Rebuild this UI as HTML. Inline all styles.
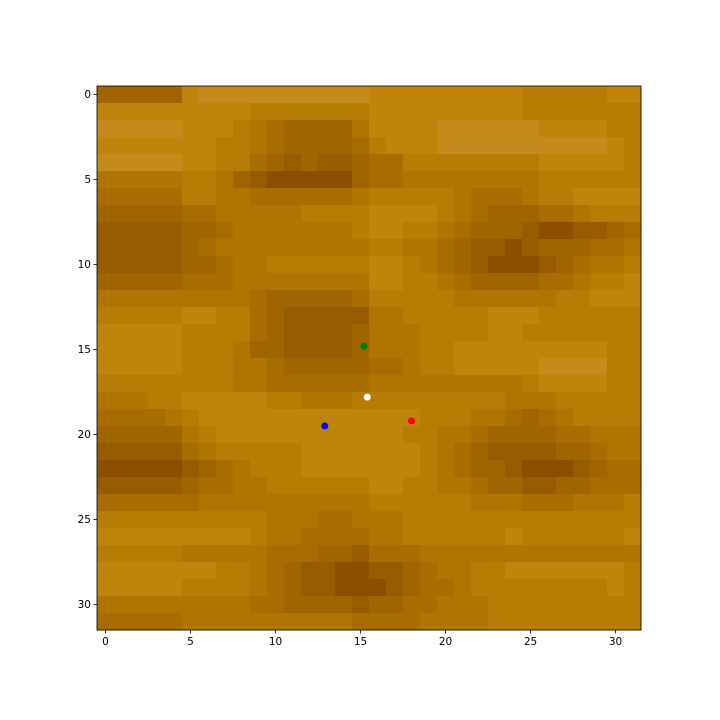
<!DOCTYPE html>
<html><head><meta charset="utf-8"><style>
body{margin:0;background:#fff;}
svg{display:block;font-family:"DejaVu Sans","Liberation Sans",sans-serif;}
</style></head><body>
<svg id="chart" width="720" height="720"></svg>
<script>
const rowLevels = [
"66666211111111112222222223333322",
"22222222233333332222222223333333",
"11111222345666642222111111222233",
"22222223345666653222111111111123",
"11111223356767765533333333222223",
"44444334678888865544444444333333",
"55555334455555543333345554332222",
"66666554444433332222345666554333",
"77777665444444432233456667887765",
"77777654444444443344567787666554",
"77777665443333332234567888765443",
"66666555444444442233456666554332",
"44444444456666653333344444433222",
"33333223356777774433333222333333",
"22222333356777764443333223333333",
"22222333466777764443322222222233",
"22222333445666665543322222111133",
"33333333445555554444444443222233",
"44433222223344433333333344433333",
"55554322222222222223334456543333",
"66666432222222222233445666655444",
"77777543333322222223456777766544",
"88888765433322222223456678887655",
"77777655443333332233445667766555",
"55555544444444443333334445554443",
"33333333334445544433333333333333",
"22222222234455554433333323333332",
"33333444445556675554444444444444",
"22222223345677887765443322222223",
"22222333345677888765543333333323",
"44444444455666676655444333333333",
"55555444444444455554444333333333"
];
const tickValues = [0,5,10,15,20,25,30];
const dotX = [15.2, 15.4, 12.9, 18.0];
const dotY = [14.8, 17.8, 19.5, 19.2];
const dotColors = ["#008000","#ffffff","#0000ff","#ff0000"];
const dotNames = ["green-point","white-point","blue-point","red-point"];

const palette=["#c88e24","#c48a1e","#c0840c","#b77c05","#b07400","#a86c00","#a06400","#985c00","#8e4e00","#874600"];
const svg=document.getElementById('chart');
const NS='http://www.w3.org/2000/svg';
const X0=97,Y0=86,S=544,N=32,C=S/N;
const xs=v=>X0+(v+0.5)*C, ys=v=>Y0+(v+0.5)*C;
function mk(t,a){const e=document.createElementNS(NS,t);for(const k in a)e.setAttribute(k,a[k]);svg.appendChild(e);return e;}
for(let r=0;r<N;r++)for(let c=0;c<N;c++){
  const e=mk('rect',{x:xs(c)-C/2,y:ys(r)-C/2,width:C+0.5,height:C+0.5,fill:palette[+rowLevels[r][c]]});
  
  
}
const fr=mk('rect',{x:X0,y:Y0,width:S,height:S,fill:'none',stroke:'#000','stroke-width':0.8});


tickValues.forEach(v=>{
  const x=xs(v),y=ys(v);
  let t=mk('line',{x1:x,x2:x,y1:Y0+S,y2:Y0+S+3.5,stroke:'#000','stroke-width':0.8});
  
  
  let l=mk('text',{x:x,y:Y0+S+15,'font-size':10.5,'text-anchor':'middle',fill:'#000'});l.textContent=v;
  
  
  t=mk('line',{x1:X0-3.5,x2:X0,y1:y,y2:y,stroke:'#000','stroke-width':0.8});
  
  
  l=mk('text',{x:X0-6,y:y+3.5,'font-size':10.5,'text-anchor':'end',fill:'#000'});l.textContent=v;
  
  
});
dotX.forEach((v,i)=>{
  const d=mk('circle',{cx:xs(v),cy:ys(dotY[i]),r:3.5,fill:dotColors[i]});
  
  
});
</script>
</body></html>
